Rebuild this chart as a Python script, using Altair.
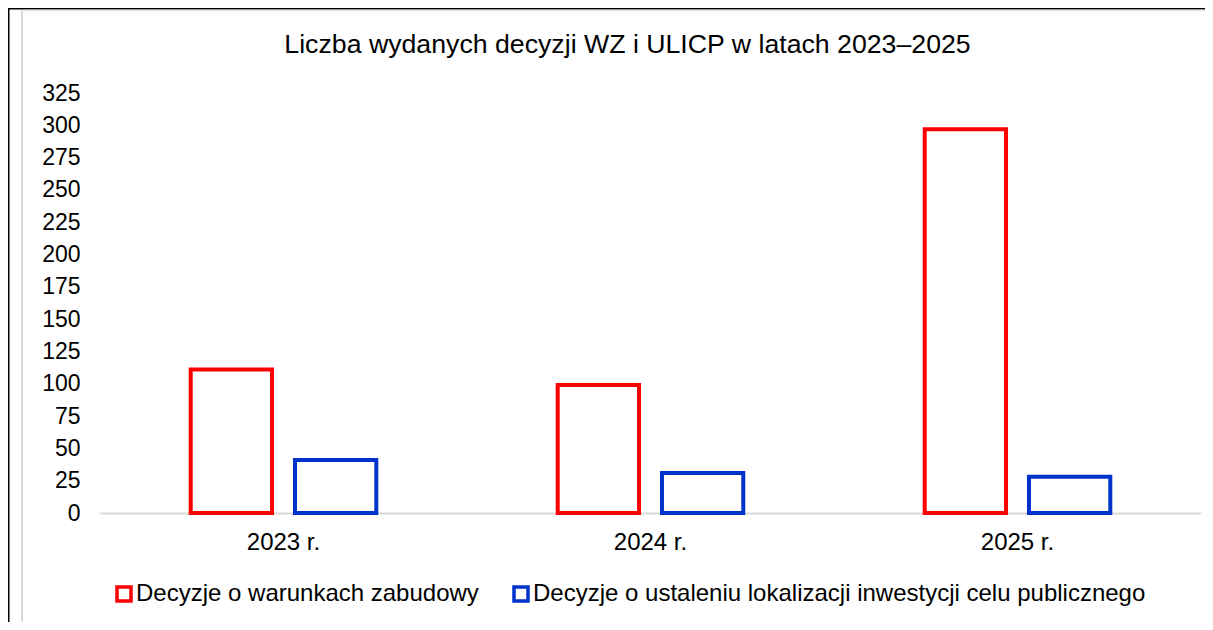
import altair as alt
import pandas as pd

years = ["2023 r.", "2024 r.", "2025 r."]
series = [
    "Decyzje o warunkach zabudowy",
    "Decyzje o ustaleniu lokalizacji inwestycji celu publicznego",
]
wz = [111, 99, 297]
ulicp = [41, 31, 28]
y_ticks = list(range(0, 326, 25))
colors = ["#FF0000", "#0033CC"]
title_text = "Liczba wydanych decyzji WZ i ULICP w latach 2023–2025"

rows = []
for i, yr in enumerate(years):
    rows.append({"rok": yr, "seria": series[0], "liczba": wz[i]})
    rows.append({"rok": yr, "seria": series[1], "liczba": ulicp[i]})
df = pd.DataFrame(rows)

FONT = "Liberation Sans"

bars = alt.Chart(df).mark_bar(fill="white", fillOpacity=1, strokeWidth=4).encode(
    x=alt.X(
        "rok:N", sort=years,
        scale=alt.Scale(paddingInner=0, paddingOuter=0),
        axis=alt.Axis(title=None, labelAngle=0, labelFontSize=24, labelFont=FONT,
                      labelColor="black", labelPadding=17, ticks=False,
                      domainColor="#d9d9d9", domainWidth=2),
    ),
    xOffset=alt.XOffset(
        "seria:N", sort=series,
        scale=alt.Scale(paddingInner=0.22, paddingOuter=0.87),
    ),
    y=alt.Y(
        "liczba:Q",
        scale=alt.Scale(domain=[0, 325], nice=False, zero=True),
        axis=alt.Axis(title=None, values=y_ticks, grid=False, domain=False, ticks=False,
                      labelFontSize=23, labelFont=FONT, labelColor="black", labelPadding=20),
    ),
    stroke=alt.Stroke(
        "seria:N", sort=series,
        scale=alt.Scale(domain=series, range=colors),
        legend=alt.Legend(title=None, orient="none", direction="horizontal",
                          legendX=12, legendY=489, symbolType="square",
                          symbolFillColor="white", symbolStrokeWidth=3.5, symbolSize=196,
                          labelFontSize=24, labelFont=FONT, labelColor="black",
                          columnPadding=28, labelOffset=0, labelLimit=0),
    ),
)

one = pd.DataFrame({"k": [0]})
title = alt.Chart(one).mark_text(
    text=title_text, fontSize=26.7, font=FONT, color="black",
    align="center", baseline="alphabetic",
).encode(x=alt.value(527.5), y=alt.value(-40.5))
black_left = alt.Chart(one).mark_rule(color="black", strokeWidth=2).encode(
    x=alt.value(-91.5), y=alt.value(-85), y2=alt.value(529))
black_top = alt.Chart(one).mark_rule(color="black", strokeWidth=2).encode(
    x=alt.value(-92), x2=alt.value(1105), y=alt.value(-84.5))
grey_left = alt.Chart(one).mark_rule(color="#d9d9d9", strokeWidth=2).encode(
    x=alt.value(-78), y=alt.value(-83), y2=alt.value(529))
grey_top = alt.Chart(one).mark_rule(color="#e6e6e6", strokeWidth=1.5).encode(
    x=alt.value(-78), x2=alt.value(1105), y=alt.value(-82.5))

chart = alt.layer(black_left, black_top, grey_left, grey_top, title, bars).properties(
    width=1101,
    height=420,
    padding={"left": 92, "top": 85, "right": 4, "bottom": 109},
    autosize=alt.AutoSizeParams(type="none"),
    background="white",
).configure_view(stroke=None)

chart.save("out.html", embed_options={"renderer": "svg", "actions": False})
